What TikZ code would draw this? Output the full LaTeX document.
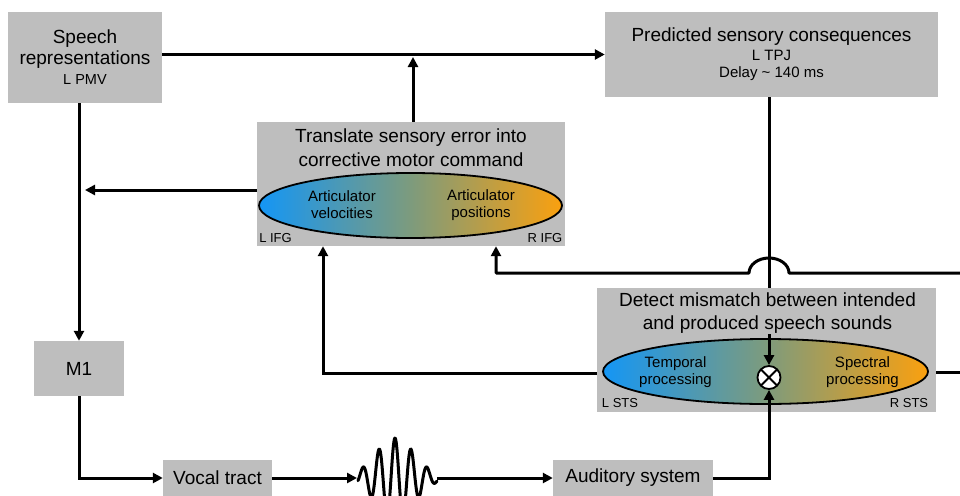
\documentclass[tikz,border=0pt]{standalone}
\usepackage{fontspec}
\setmainfont{Liberation Sans}
\usetikzlibrary{shapes.geometric,arrows.meta}
\definecolor{boxgray}{RGB}{190,190,190}
\definecolor{elblue}{RGB}{20,150,245}
\definecolor{elmid}{RGB}{125,155,125}
\definecolor{elorange}{RGB}{250,160,15}
\newcommand{\fBigX}{\fontsize{19}{22}\selectfont}
\newcommand{\fMidX}{\fontsize{15}{17}\selectfont}
\newcommand{\fSmlX}{\fontsize{13}{15}\selectfont}
\begin{document}
\begin{tikzpicture}[x=1pt,y=-1pt,
  gbox/.style={rectangle, fill=boxgray, inner sep=0pt, align=center, font=\fBigX},
  ttl/.style={inner sep=0pt, align=center, font=\fontsize{19}{23.5}\selectfont},
  wire/.style={line width=3pt},
  arr/.style={line width=3pt, -{Triangle[length=10pt,width=10pt]}},
  grad/.style={ellipse, draw, line width=1.8pt, inner sep=0pt, left color=elblue, right color=elorange, middle color=elmid},
  lbl/.style={inner sep=0pt, font=\fSmlX},
  eltext/.style={inner sep=0pt, align=center, font=\fMidX}]
\useasboundingbox (0,0) rectangle (960,495);
\clip (0,0) rectangle (960,495);

% boxes
\node[gbox, minimum width=154pt, minimum height=91pt] (sp) at (85,57.5)
  {Speech\\[-1pt]representations\\[-2pt]{\fontsize{14.5}{17}\selectfont L PMV}};
\node[gbox, minimum width=333pt, minimum height=85pt] (pred) at (771.5,54.5)
  {Predicted sensory consequences\\[-3pt]{\fMidX L TPJ}\\[-5pt]{\fMidX Delay \textasciitilde{} 140 ms}};
\node[gbox, minimum width=90pt, minimum height=55pt] (m1) at (79,368.5) {M1};
\node[gbox, minimum width=109pt, minimum height=36pt] (voc) at (217.5,478) {Vocal tract};
\node[gbox, minimum width=160pt, minimum height=36pt] (aud) at (633,478) {Auditory system};

% translate box
\node[gbox, minimum width=308pt, minimum height=124pt] (tr) at (411,184) {};
\node[ttl] (trt) at (411,147.5) {Translate sensory error into\\corrective motor command};
\node[grad, minimum width=303pt, minimum height=65pt] (el1) at (410.5,205.5) {};
\node[eltext] (av) at (342,205) {Articulator\\velocities};
\node[eltext] (ap) at (481,205) {Articulator\\positions};
\node[lbl] (lifg) at (275.5,238) {L IFG};
\node[lbl] (rifg) at (545,238) {R IFG};

% detect box
\node[gbox, minimum width=339pt, minimum height=124pt] (det) at (766.5,350) {};
\node[ttl] (dett) at (767.5,313) {Detect mismatch between intended\\and produced speech sounds};
\node[grad, minimum width=325pt, minimum height=65pt] (el2) at (765.5,371.5) {};
\node[eltext] (tp) at (675.5,372) {Temporal\\processing};
\node[eltext] (spc) at (862.5,372) {Spectral\\processing};
\node[lbl] (lsts) at (620,403) {L STS};
\node[lbl] (rsts) at (909,403) {R STS};
\node[circle, draw, fill=white, line width=1.8pt, minimum size=23pt, inner sep=0pt,
  path picture={\draw[line width=1.8pt] (path picture bounding box.north west) -- (path picture bounding box.south east)
    (path picture bounding box.north east) -- (path picture bounding box.south west);}] (cx) at (769,377.5) {};

% coordinates
\coordinate (jA) at (413,57);
\coordinate (lA) at (85,190);
\coordinate (b1) at (323,373);
\coordinate (b2) at (496,273);
\coordinate (rE1) at (960,273);
\coordinate (rE2) at (960,372);
\coordinate (wL) at (357,478);
\coordinate (wR) at (437,478);
\coordinate (cin) at (769,334);

% connectors
\draw[arr] (sp.east |- pred.west) -- (pred.west);
\draw[arr] (tr.north -| jA) -- (jA);
\draw[arr] (tr.west |- lA) -- (lA);
\draw[arr] (m1.north |- sp.south) -- (m1.north);
\draw[arr] (m1.south) -- (m1.south |- voc.west) -- (voc.west);
\draw[arr] (voc.east) -- (wL);
\draw[arr] (wR) -- (aud.west);
\draw[arr] (aud.east) -- (aud.east -| cx) -- (cx.south);
\draw[wire] (cx |- pred.south) -- (cx |- det.north);
\draw[arr] (cin) -- (cx.north);
\draw[arr] (det.west |- b1) -- (b1) -- (tr.south -| b1);
\draw[arr, line join=round] (rE1) -- (789,273) .. controls (789,264.7) and (780,258) .. (769,258)
  .. controls (758,258) and (749,264.7) .. (749,273) -- (b2) -- (tr.south -| b2);
\draw[wire] (det.east |- rE2) -- (rE2);

% waveform
\draw[line width=3pt, line join=round, line cap=round]
  plot[domain=358:437, samples=220, smooth] (\x, {478 - 40*exp(-((\x-395)/28)^2)*cos(360*(\x-395)/16)});
\end{tikzpicture}
\end{document}
